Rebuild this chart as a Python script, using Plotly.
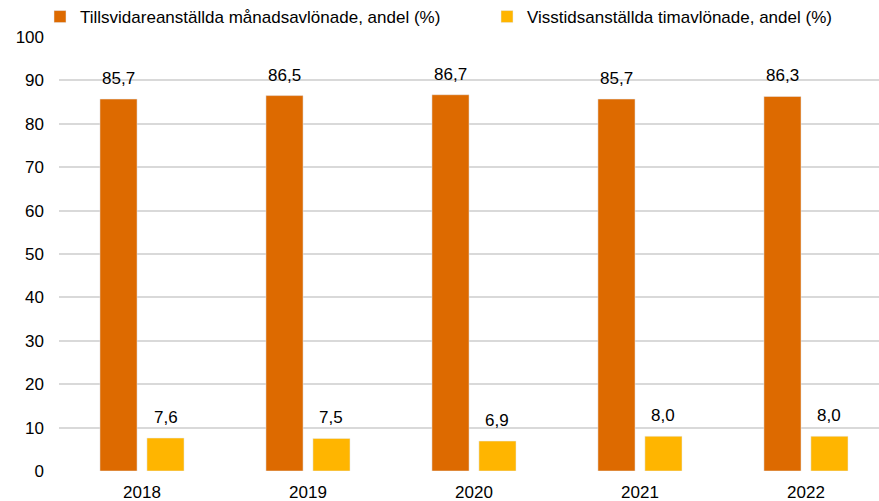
import plotly.graph_objects as go

years = ["2018", "2019", "2020", "2021", "2022"]
perm_monthly = [85.7, 86.5, 86.7, 85.7, 86.3]
temp_hourly = [7.6, 7.5, 6.9, 8.0, 8.0]
name_perm = "Tillsvidareanställda månadsavlönade, andel (%)"
name_temp = "Visstidsanställda timavlönade, andel (%)"
c_perm = "#DD6A00"
c_temp = "#FFB500"

font = "Liberation Sans, Arial, sans-serif"
W, H = 879, 501
FS = 17

fig = go.Figure()
fig.add_trace(go.Bar(x=years, y=perm_monthly, name=name_perm, marker_color=c_perm,
                     legend="legend"))
fig.add_trace(go.Bar(x=years, y=temp_hourly, name=name_temp, marker_color=c_temp,
                     legend="legend2"))

def fmt(v):
    return f"{v:.1f}".replace(".", ",")

for vals, shift in ((perm_monthly, -23.5), (temp_hourly, 23.5)):
    for i, v in enumerate(vals):
        fig.add_annotation(x=i, y=v, text=fmt(v), showarrow=False,
                           xshift=shift, yshift=9, yanchor="bottom",
                           font=dict(size=FS, color="#000", family=font))

leg_common = dict(orientation="h", xanchor="left", yanchor="middle",
                  xref="container", yref="container", font=dict(size=FS),
                  itemwidth=30, bgcolor="rgba(0,0,0,0)")

fig.update_layout(
    width=W, height=H,
    margin=dict(l=59, r=0, t=37, b=30, autoexpand=False),
    paper_bgcolor="white", plot_bgcolor="white",
    barmode="group", bargap=0.434, bargroupgap=0.21,
    font=dict(family=font, size=FS, color="#000"),
    showlegend=True,
    legend=dict(x=40 / W, y=1 - 17 / H, **leg_common),
    legend2=dict(x=487 / W, y=1 - 17 / H, **leg_common),
    xaxis=dict(type="category", range=[-0.5, 4.44], showgrid=False, showline=False,
               zeroline=False, tickfont=dict(size=FS), ticks="", automargin=False,
               ticklabelstandoff=9),
    yaxis=dict(range=[0, 100], dtick=10, showgrid=True, gridcolor="#D9D9D9", gridwidth=2,
               zeroline=False, showline=False, tickfont=dict(size=FS),
               ticklabelstandoff=14, automargin=False),
)

fig.write_html("out.html", config={"displayModeBar": False},
               post_script="document.body.style.margin='0px';")
